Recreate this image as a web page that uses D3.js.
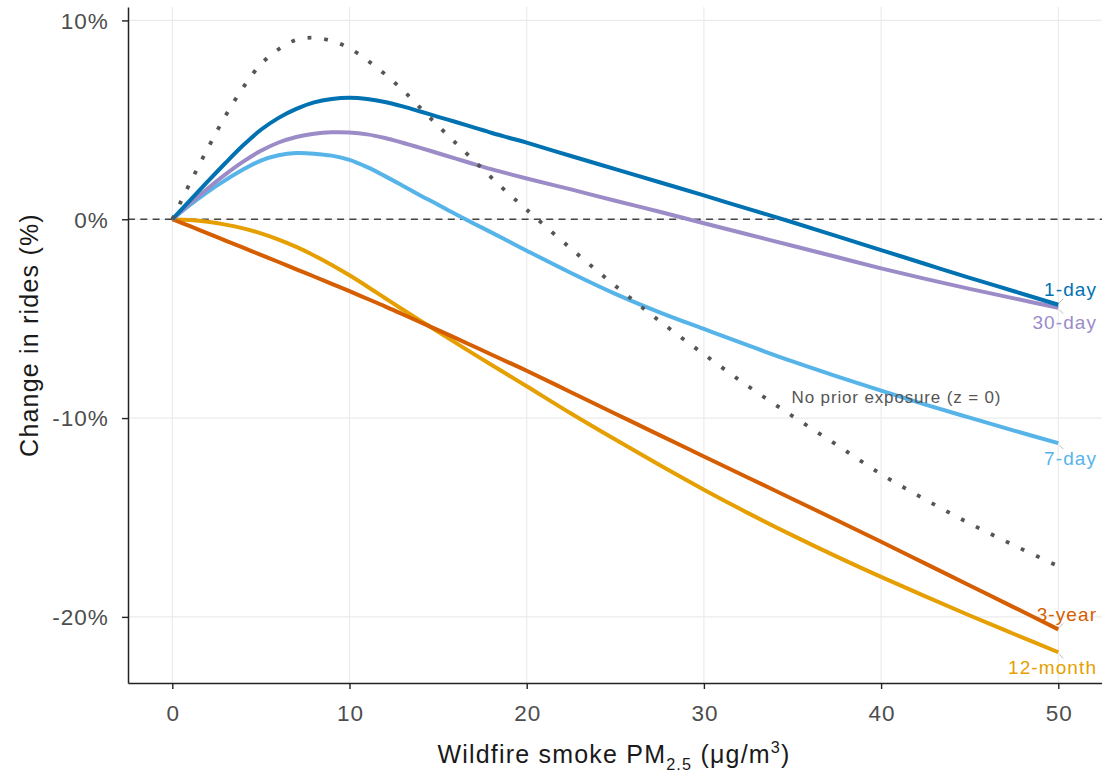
<!DOCTYPE html>
<html>
<head>
<meta charset="utf-8">
<script src="https://cdn.jsdelivr.net/npm/d3@7"></script>
<style>
  html, body { margin: 0; padding: 0; background: #fff; }
  svg { display: block; font-family: "Liberation Sans", Arial, Helvetica, sans-serif; }
</style>
</head>
<body>
<svg id="chart" width="1102" height="774"></svg>
<script>
// Wildfire smoke PM2.5 concentration (µg/m³) at which each response is evaluated
const pm = [0, 1, 2, 3, 4, 5, 6, 7, 8, 9, 10, 11, 12, 13, 14, 15, 16, 17, 18, 19, 20,
            22.5, 25, 27.5, 30, 32.5, 35, 37.5, 40, 42.5, 45, 47.5, 50];

// Change in rides (%) by prior-exposure window
const oneDay = [0, 0.95, 1.9, 2.83, 3.72, 4.5, 5.1, 5.55, 5.88, 6.05, 6.11,
                6.05, 5.9, 5.68, 5.42, 5.15, 4.89, 4.62, 4.35, 4.1, 3.85,
                3.18, 2.52, 1.86, 1.2, 0.52, -0.15, -0.85, -1.55, -2.25, -2.95, -3.62, -4.3];
const thirtyDay = [0, 0.79, 1.55, 2.26, 2.9, 3.44, 3.86, 4.14, 4.3, 4.37, 4.36,
                   4.27, 4.09, 3.85, 3.59, 3.32, 3.05, 2.78, 2.52, 2.28, 2.05,
                   1.5, 0.93, 0.38, -0.2, -0.77, -1.33, -1.9, -2.47, -3.0, -3.5, -3.98, -4.45];
const sevenDay = [0, 0.72, 1.38, 1.97, 2.5, 2.95, 3.22, 3.33, 3.3, 3.2, 2.99,
                  2.62, 2.17, 1.69, 1.2, 0.73, 0.25, -0.21, -0.66, -1.12, -1.58,
                  -2.7, -3.75, -4.68, -5.52, -6.35, -7.15, -7.9, -8.62, -9.32, -9.98, -10.63, -11.26];
const threeYear = [0, -0.35, -0.71, -1.07, -1.43, -1.79, -2.15, -2.52, -2.88, -3.25, -3.62,
                   -4.0, -4.38, -4.78, -5.18, -5.58, -5.98, -6.39, -6.8, -7.21, -7.62,
                   -8.7, -9.78, -10.86, -11.93, -13.0, -14.07, -15.14, -16.22, -17.32, -18.42, -19.52, -20.63];
const twelveMonth = [0, -0.04, -0.13, -0.27, -0.46, -0.71, -1.02, -1.39, -1.82, -2.3, -2.82,
                     -3.38, -3.96, -4.54, -5.1, -5.66, -6.22, -6.77, -7.32, -7.86, -8.4,
                     -9.77, -11.08, -12.36, -13.6, -14.78, -15.9, -16.97, -17.99, -18.97, -19.93, -20.86, -21.78];
const noPrior = [0, 1.82, 3.56, 5.2, 6.63, 7.8, 8.55, 9.03, 9.13, 8.97, 8.6,
                 8.0, 7.3, 6.5, 5.6, 4.7, 3.83, 2.97, 2.1, 1.27, 0.48,
                 -1.48, -3.35, -5.12, -6.79, -8.4, -9.9, -11.35, -12.82, -14.1, -15.3, -16.4, -17.45];

const seriesNames = ["12-month", "3-year", "7-day", "30-day", "1-day"];
const seriesValues = [twelveMonth, threeYear, sevenDay, thirtyDay, oneDay];
const seriesColors = ["#E69F00", "#D55E00", "#56B4E9", "#9B8CC8", "#0072B2"];
const labelBelow = [true, false, true, true, false];

const noPriorLabel = "No prior exposure (z = 0)";
const noPriorAt = [34.95, -9.25];

const xTicks = [0, 10, 20, 30, 40, 50];
const yTicks = [10, 0, -10, -20];

// ---- layout ----
const svg = d3.select("#chart");
const panel = { left: 128, right: 1102.6, top: 7, bottom: 683 };

// ggplot-style 5% expansion around the data range
const xExt = d3.extent(pm);
const allY = seriesValues.flat().concat(noPrior);
const yExt = d3.extent(allY);
const xPad = (xExt[1] - xExt[0]) * 0.05;
const yPad = (yExt[1] - yExt[0]) * 0.05;

const x = d3.scaleLinear().domain([xExt[0] - xPad, xExt[1] + xPad]).range([panel.left, panel.right]);
const y = d3.scaleLinear().domain([yExt[0] - yPad, yExt[1] + yPad]).range([panel.bottom, panel.top]);

// ---- grid ----
const grid = svg.append("g").attr("stroke", "#ebebeb").attr("stroke-width", 1.2);
grid.selectAll("line.v").data(xTicks).join("line")
  .attr("class", "v")
  .attr("x1", d => x(d)).attr("x2", d => x(d))
  .attr("y1", panel.top).attr("y2", panel.bottom);
grid.selectAll("line.h").data(yTicks).join("line")
  .attr("class", "h")
  .attr("x1", panel.left).attr("x2", panel.right)
  .attr("y1", d => y(d)).attr("y2", d => y(d));

// zero reference
svg.append("line")
  .attr("x1", panel.left).attr("x2", panel.right)
  .attr("y1", y(0)).attr("y2", y(0))
  .attr("stroke", "#444").attr("stroke-width", 1.6)
  .attr("stroke-dasharray", "7 5.3");

// ---- curves ----
const line = d3.line()
  .x((d, i) => x(pm[i]))
  .y(d => y(d))
  .curve(d3.curveCatmullRom.alpha(0.5));

svg.append("g").selectAll("path").data(seriesValues).join("path")
  .attr("d", d => line(d))
  .attr("fill", "none")
  .attr("stroke", (d, i) => seriesColors[i])
  .attr("stroke-width", 4)
  .attr("stroke-linejoin", "round");

svg.append("path")
  .attr("d", line(noPrior))
  .attr("fill", "none")
  .attr("stroke", "#555")
  .attr("stroke-width", 3.8)
  .attr("stroke-dasharray", "3.8 12.9");

// ---- axes ----
const axisColor = "#222";
const xAxis = svg.append("g")
  .attr("transform", `translate(0,${panel.bottom})`)
  .call(d3.axisBottom(x).tickValues(xTicks).tickSize(6).tickSizeOuter(0).tickFormat(d3.format("d")));
const yAxis = svg.append("g")
  .attr("transform", `translate(${panel.left},0)`)
  .call(d3.axisLeft(y).tickValues(yTicks).tickSize(6).tickSizeOuter(0).tickFormat(d => d + "%"));

[xAxis, yAxis].forEach(g => {
  g.select(".domain").attr("stroke", axisColor).attr("stroke-width", 1.5);
  g.selectAll(".tick line").attr("stroke", axisColor).attr("stroke-width", 1.4);
  g.selectAll(".tick text")
    .attr("fill", "#4d4d4d")
    .style("font-size", "22.5px")
    .style("letter-spacing", "1px");
  g.attr("font-family", null).attr("font-size", null);
});
xAxis.selectAll(".tick text").attr("y", 37.7).attr("dy", null).attr("dx", "0.5px");
yAxis.selectAll(".tick text").attr("x", -19.3).attr("dy", "0.35em");

// ---- axis titles ----
const xTitle = svg.append("text")
  .attr("x", 614).attr("y", 763)
  .attr("text-anchor", "middle")
  .attr("fill", "#1a1a1a")
  .style("font-size", "25px")
  .style("letter-spacing", "1.2px");
xTitle.append("tspan").text("Wildfire smoke PM");
xTitle.append("tspan").attr("dy", 7).style("font-size", "16.2px").text("2.5");
xTitle.append("tspan").attr("dy", -7).text(" (\u03BCg/m");
xTitle.append("tspan").attr("dy", -10).style("font-size", "16.2px").text("3");
xTitle.append("tspan").attr("dy", 10).text(")");

svg.append("text")
  .attr("transform", "translate(38,335) rotate(-90)")
  .attr("text-anchor", "middle")
  .attr("fill", "#1a1a1a")
  .style("font-size", "25px")
  .style("letter-spacing", "1.2px")
  .text("Change in rides (%)");

// ---- direct labels at the line ends ----
const xEnd = x(pm[pm.length - 1]);
const labels = svg.append("g");
seriesNames.forEach((name, i) => {
  const vals = seriesValues[i];
  const yEnd = y(vals[vals.length - 1]);
  const below = labelBelow[i];
  labels.append("line")
    .attr("x1", xEnd + 1).attr("y1", yEnd + (below ? 2 : -2))
    .attr("x2", xEnd + 5).attr("y2", yEnd + (below ? 6 : -6))
    .attr("stroke", "#aaa").attr("stroke-width", 0.8);
  labels.append("text")
    .attr("x", 1097.1)
    .attr("y", yEnd + (below ? 21.5 : -8.8))
    .attr("text-anchor", "end")
    .attr("fill", seriesColors[i])
    .style("font-size", "19px")
    .style("letter-spacing", "1.1px")
    .text(name);
});

labels.append("text")
  .attr("x", x(noPriorAt[0]))
  .attr("y", y(noPriorAt[1]))
  .attr("fill", "#555")
  .style("font-size", "17px")
  .style("letter-spacing", "0.85px")
  .text(noPriorLabel);
</script>
</body>
</html>
